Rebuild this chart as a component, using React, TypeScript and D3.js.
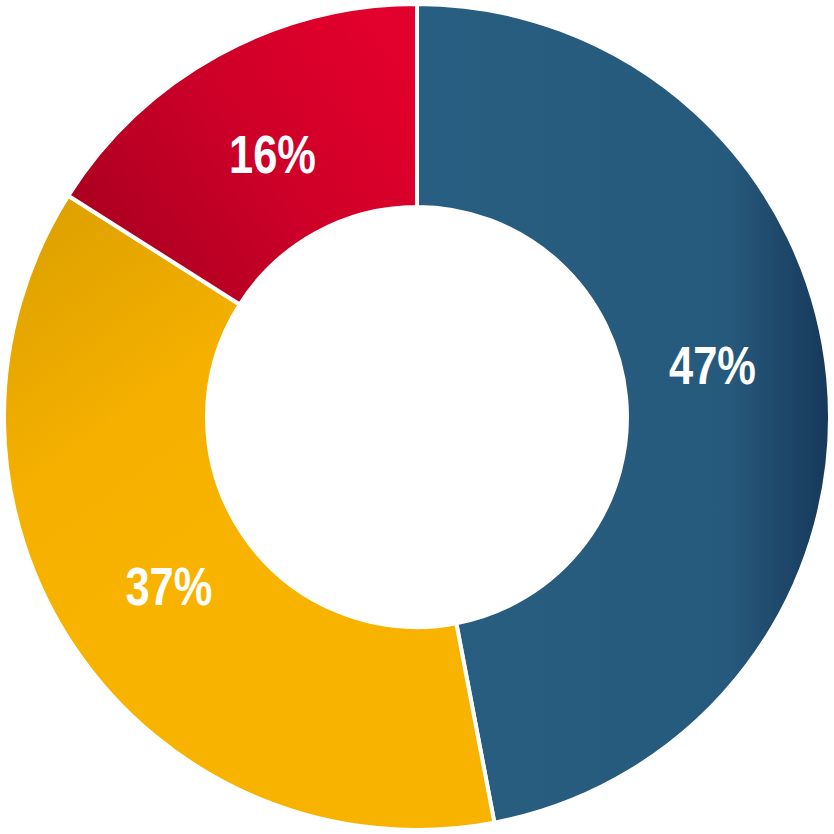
import { useRef, useEffect } from "react";
import * as d3 from "d3";

const labels = ["47%", "37%", "16%"];
const values = [47, 37, 16];
const colorIds = ["gBlue", "gGold", "gRed"];

export default function App() {
  const ref = useRef<SVGSVGElement>(null);

  useEffect(() => {
    if (!ref.current) return;
    const svg = d3.select(ref.current); svg.selectAll("*").remove();
    const W = 834, H = 834, cx = 417, cy = 417;
    const outer = 413, inner = 210;
    svg.attr("width", W).attr("height", H);
    const defs = svg.append("defs");
    // gradient coords are in the centred group's space
    const grad = (id: string, x1: number, y1: number, x2: number, y2: number, stops: [number, string][]) => {
      const lg = defs.append("linearGradient").attr("id", id).attr("gradientUnits", "userSpaceOnUse")
        .attr("x1", x1 - cx).attr("y1", y1 - cy).attr("x2", x2 - cx).attr("y2", y2 - cy);
      stops.forEach(s => lg.append("stop").attr("offset", s[0]).attr("stop-color", s[1]));
    };
    grad("gBlue", 417, 0, 830, 0, [[0, "#285e81"], [0.75, "#265a7c"], [1, "#17385a"]]);
    grad("gRed", 80, 290, 400, 60, [[0, "#a3001e"], [0.55, "#cc0028"], [1, "#e2002c"]]);
    grad("gGold", 40, 200, 260, 500, [[0, "#dca000"], [0.6, "#f5b000"], [1, "#f8b300"]]);

    const pie = d3.pie<number>().sort(null).value(d => d);
    const arcs = pie(values);
    const arc = d3.arc<d3.PieArcDatum<number>>().innerRadius(inner).outerRadius(outer);
    // big slice's label sits a bit above its mid angle in the source
    const labelPos = (d: d3.PieArcDatum<number>, i: number) => {
      const a = (d.startAngle + d.endAngle) / 2 - (i === 0 ? 0.08 : 0);
      return [Math.sin(a) * 300, -Math.cos(a) * 300];
    };
    const g = svg.append("g").attr("transform", `translate(${cx},${cy})`);
    g.selectAll("path").data(arcs).join("path")
      .attr("d", arc).attr("fill", (_d, i) => `url(#${colorIds[i]})`)
      .attr("stroke", "#fff").attr("stroke-width", 4).attr("stroke-linejoin", "miter");
    g.selectAll("text").data(arcs).join("text")
      .attr("transform", (d, i) => { const [x, y] = labelPos(d, i); return `translate(${x},${y}) scale(0.82,1)`; })
      .attr("dy", "0.36em").attr("text-anchor", "middle").attr("fill", "#fff")
      .attr("font-family", "'Liberation Sans', Arial, sans-serif")
      .attr("font-weight", "bold").attr("font-size", "53px")
      .text((_d, i) => labels[i]);
  }, []);

  return (
    <div style={{ position: "absolute", left: 0, top: 0 }}>
      <svg ref={ref} style={{ display: "block" }} />
    </div>
  );
}
